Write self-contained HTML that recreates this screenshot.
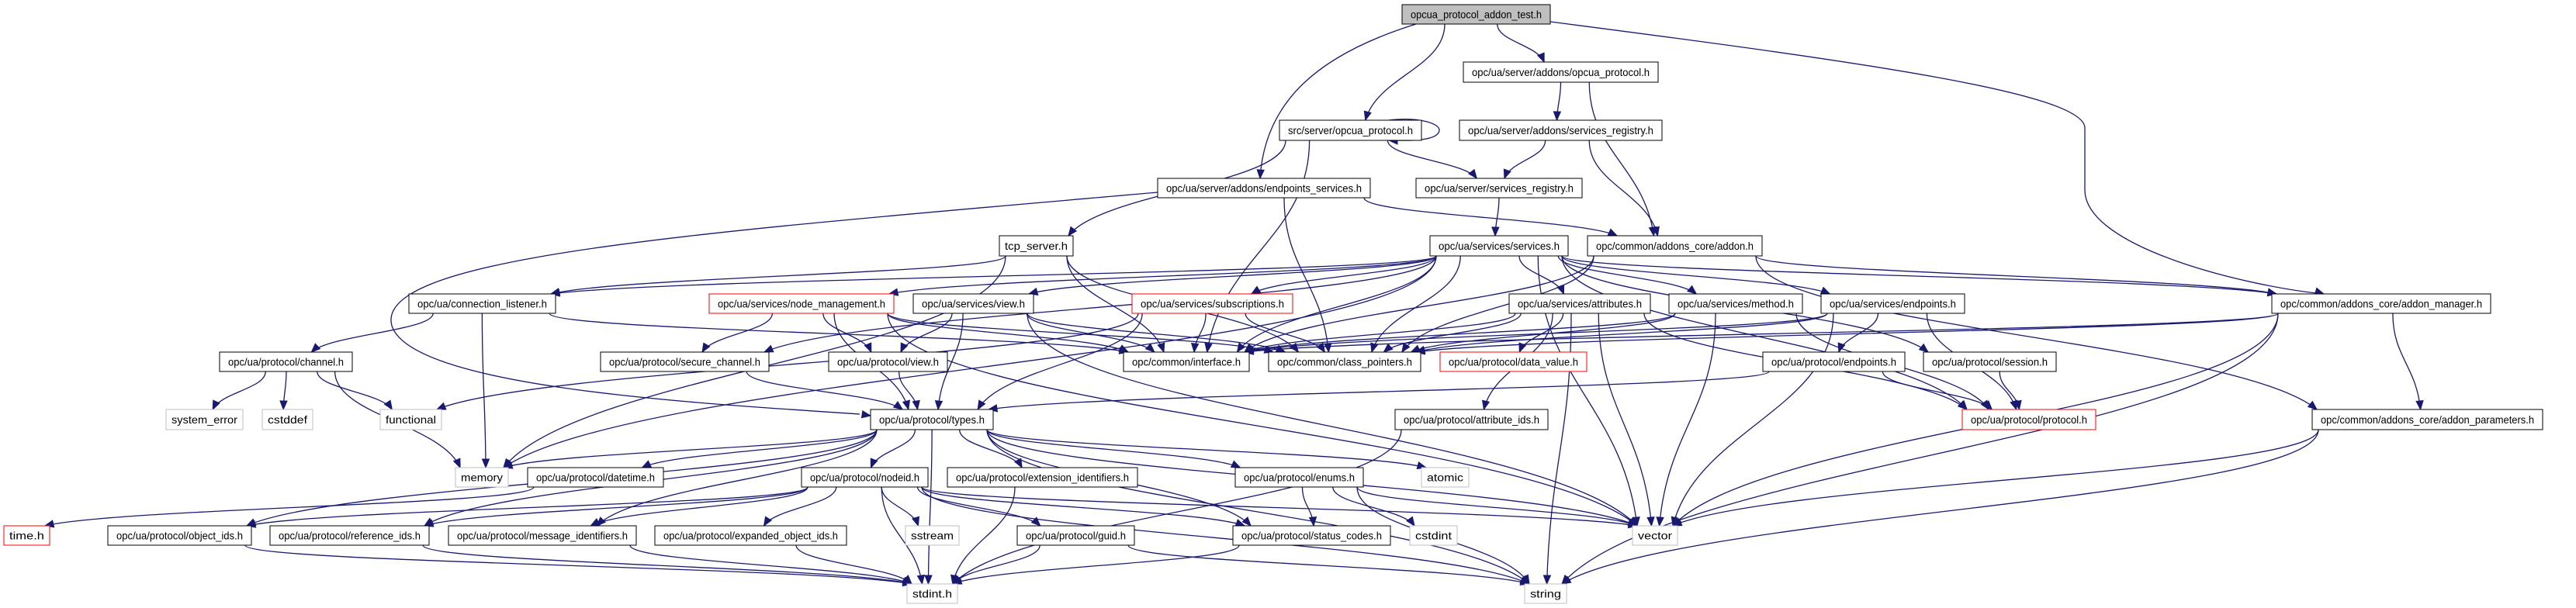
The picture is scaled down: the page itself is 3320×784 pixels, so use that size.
<!DOCTYPE html>
<html><head><meta charset="utf-8"><style>
html,body{margin:0;padding:0;background:#fff;width:3320px;height:784px;overflow:hidden}
svg{display:block}
text{font-family:"Liberation Sans",Arial,sans-serif;font-size:14px;fill:#000}
</style></head><body>
<svg id="s" xmlns="http://www.w3.org/2000/svg" width="3320" height="784" viewBox="0 0 3320 784">
<g id="edges" fill="none" stroke="#191970" stroke-width="1.3"></g>
<g id="heads" fill="#191970" stroke="#191970" stroke-width="1"></g>
<g id="nodes">
<g id="root"><rect x="1807" y="6" width="191" height="25" fill="#bfbfbf" stroke="#000"/><text x="1902.5" y="23.5" text-anchor="middle">opcua_protocol_addon_test.h</text></g>
<g id="addproto"><rect x="1886" y="80" width="251" height="26" fill="#fff" stroke="#000"/><text x="2011.5" y="98" text-anchor="middle">opc/ua/server/addons/opcua_protocol.h</text></g>
<g id="srcproto"><rect x="1649" y="155" width="183" height="26" fill="#fff" stroke="#000"/><text x="1740.5" y="173" text-anchor="middle">src/server/opcua_protocol.h</text></g>
<g id="addreg"><rect x="1881" y="155" width="261" height="26" fill="#fff" stroke="#000"/><text x="2011.5" y="173" text-anchor="middle">opc/ua/server/addons/services_registry.h</text></g>
<g id="endsvc"><rect x="1492" y="230" width="274" height="25" fill="#fff" stroke="#000"/><text x="1629" y="247.5" text-anchor="middle">opc/ua/server/addons/endpoints_services.h</text></g>
<g id="srvreg"><rect x="1825" y="230" width="214" height="25" fill="#fff" stroke="#000"/><text x="1932" y="247.5" text-anchor="middle">opc/ua/server/services_registry.h</text></g>
<g id="tcp"><rect x="1288" y="304" width="95" height="26" fill="#fff" stroke="#000"/><text x="1335.5" y="322" text-anchor="middle">tcp_server.h</text></g>
<g id="services"><rect x="1843" y="304" width="178" height="26" fill="#fff" stroke="#000"/><text x="1932" y="322" text-anchor="middle">opc/ua/services/services.h</text></g>
<g id="addon"><rect x="2046" y="304" width="225" height="26" fill="#fff" stroke="#000"/><text x="2158.5" y="322" text-anchor="middle">opc/common/addons_core/addon.h</text></g>
<g id="connlist"><rect x="527" y="379" width="189" height="25" fill="#fff" stroke="#000"/><text x="621.5" y="396.5" text-anchor="middle">opc/ua/connection_listener.h</text></g>
<g id="nodemgmt"><rect x="914" y="379" width="238" height="25" fill="#fff" stroke="#f00"/><text x="1033" y="396.5" text-anchor="middle">opc/ua/services/node_management.h</text></g>
<g id="sview"><rect x="1177" y="379" width="155" height="25" fill="#fff" stroke="#000"/><text x="1254.5" y="396.5" text-anchor="middle">opc/ua/services/view.h</text></g>
<g id="subs"><rect x="1459" y="379" width="207" height="25" fill="#fff" stroke="#f00"/><text x="1562.5" y="396.5" text-anchor="middle">opc/ua/services/subscriptions.h</text></g>
<g id="attrs"><rect x="1945" y="379" width="182" height="25" fill="#fff" stroke="#000"/><text x="2036" y="396.5" text-anchor="middle">opc/ua/services/attributes.h</text></g>
<g id="method"><rect x="2151" y="379" width="172" height="25" fill="#fff" stroke="#000"/><text x="2237" y="396.5" text-anchor="middle">opc/ua/services/method.h</text></g>
<g id="sendp"><rect x="2347" y="379" width="185" height="25" fill="#fff" stroke="#000"/><text x="2439.5" y="396.5" text-anchor="middle">opc/ua/services/endpoints.h</text></g>
<g id="addonmgr"><rect x="2928" y="379" width="282" height="25" fill="#fff" stroke="#000"/><text x="3069" y="396.5" text-anchor="middle">opc/common/addons_core/addon_manager.h</text></g>
<g id="channel"><rect x="283" y="454" width="171" height="25" fill="#fff" stroke="#000"/><text x="368.5" y="471.5" text-anchor="middle">opc/ua/protocol/channel.h</text></g>
<g id="securech"><rect x="774" y="454" width="217" height="25" fill="#fff" stroke="#000"/><text x="882.5" y="471.5" text-anchor="middle">opc/ua/protocol/secure_channel.h</text></g>
<g id="pview"><rect x="1068" y="454" width="153" height="25" fill="#fff" stroke="#000"/><text x="1144.5" y="471.5" text-anchor="middle">opc/ua/protocol/view.h</text></g>
<g id="interface"><rect x="1448" y="454" width="162" height="25" fill="#fff" stroke="#000"/><text x="1529" y="471.5" text-anchor="middle">opc/common/interface.h</text></g>
<g id="classptr"><rect x="1635" y="454" width="196" height="25" fill="#fff" stroke="#000"/><text x="1733" y="471.5" text-anchor="middle">opc/common/class_pointers.h</text></g>
<g id="datavalue"><rect x="1856" y="454" width="189" height="25" fill="#fff" stroke="#f00"/><text x="1950.5" y="471.5" text-anchor="middle">opc/ua/protocol/data_value.h</text></g>
<g id="pendp"><rect x="2272" y="454" width="183" height="25" fill="#fff" stroke="#000"/><text x="2363.5" y="471.5" text-anchor="middle">opc/ua/protocol/endpoints.h</text></g>
<g id="session"><rect x="2479" y="454" width="171" height="25" fill="#fff" stroke="#000"/><text x="2564.5" y="471.5" text-anchor="middle">opc/ua/protocol/session.h</text></g>
<g id="syserr"><rect x="214" y="528" width="99" height="26" fill="#fff" stroke="#bfbfbf"/><text x="263.5" y="546" text-anchor="middle">system_error</text></g>
<g id="cstddef"><rect x="338" y="528" width="65" height="26" fill="#fff" stroke="#bfbfbf"/><text x="370.5" y="546" text-anchor="middle">cstddef</text></g>
<g id="functional"><rect x="490" y="528" width="79" height="26" fill="#fff" stroke="#bfbfbf"/><text x="529.5" y="546" text-anchor="middle">functional</text></g>
<g id="types"><rect x="1122" y="528" width="158" height="26" fill="#fff" stroke="#000"/><text x="1201" y="546" text-anchor="middle">opc/ua/protocol/types.h</text></g>
<g id="attrids"><rect x="1798" y="528" width="197" height="26" fill="#fff" stroke="#000"/><text x="1896.5" y="546" text-anchor="middle">opc/ua/protocol/attribute_ids.h</text></g>
<g id="protocol"><rect x="2529" y="528" width="172" height="26" fill="#fff" stroke="#f00"/><text x="2615" y="546" text-anchor="middle">opc/ua/protocol/protocol.h</text></g>
<g id="addonparams"><rect x="2980" y="528" width="297" height="26" fill="#fff" stroke="#000"/><text x="3128.5" y="546" text-anchor="middle">opc/common/addons_core/addon_parameters.h</text></g>
<g id="memory"><rect x="587" y="603" width="68" height="25" fill="#fff" stroke="#bfbfbf"/><text x="621" y="620.5" text-anchor="middle">memory</text></g>
<g id="datetime"><rect x="680" y="603" width="175" height="25" fill="#fff" stroke="#000"/><text x="767.5" y="620.5" text-anchor="middle">opc/ua/protocol/datetime.h</text></g>
<g id="nodeid"><rect x="1033" y="603" width="163" height="25" fill="#fff" stroke="#000"/><text x="1114.5" y="620.5" text-anchor="middle">opc/ua/protocol/nodeid.h</text></g>
<g id="extids"><rect x="1221" y="603" width="245" height="25" fill="#fff" stroke="#000"/><text x="1343.5" y="620.5" text-anchor="middle">opc/ua/protocol/extension_identifiers.h</text></g>
<g id="enums"><rect x="1592" y="603" width="165" height="25" fill="#fff" stroke="#000"/><text x="1674.5" y="620.5" text-anchor="middle">opc/ua/protocol/enums.h</text></g>
<g id="atomic"><rect x="1832" y="603" width="61" height="25" fill="#fff" stroke="#bfbfbf"/><text x="1862.5" y="620.5" text-anchor="middle">atomic</text></g>
<g id="time"><rect x="5" y="678" width="59" height="25" fill="#fff" stroke="#f00"/><text x="34.5" y="695.5" text-anchor="middle">time.h</text></g>
<g id="objids"><rect x="139" y="678" width="185" height="25" fill="#fff" stroke="#000"/><text x="231.5" y="695.5" text-anchor="middle">opc/ua/protocol/object_ids.h</text></g>
<g id="refids"><rect x="348" y="678" width="205" height="25" fill="#fff" stroke="#000"/><text x="450.5" y="695.5" text-anchor="middle">opc/ua/protocol/reference_ids.h</text></g>
<g id="msgids"><rect x="578" y="678" width="242" height="25" fill="#fff" stroke="#000"/><text x="699" y="695.5" text-anchor="middle">opc/ua/protocol/message_identifiers.h</text></g>
<g id="expobj"><rect x="844" y="678" width="247" height="25" fill="#fff" stroke="#000"/><text x="967.5" y="695.5" text-anchor="middle">opc/ua/protocol/expanded_object_ids.h</text></g>
<g id="sstream"><rect x="1167" y="678" width="69" height="25" fill="#fff" stroke="#bfbfbf"/><text x="1201.5" y="695.5" text-anchor="middle">sstream</text></g>
<g id="guid"><rect x="1311" y="678" width="151" height="25" fill="#fff" stroke="#000"/><text x="1386.5" y="695.5" text-anchor="middle">opc/ua/protocol/guid.h</text></g>
<g id="statuscodes"><rect x="1589" y="678" width="203" height="25" fill="#fff" stroke="#000"/><text x="1690.5" y="695.5" text-anchor="middle">opc/ua/protocol/status_codes.h</text></g>
<g id="cstdint"><rect x="1817" y="678" width="61" height="25" fill="#fff" stroke="#bfbfbf"/><text x="1847.5" y="695.5" text-anchor="middle">cstdint</text></g>
<g id="vector"><rect x="2104" y="678" width="58" height="25" fill="#fff" stroke="#bfbfbf"/><text x="2133" y="695.5" text-anchor="middle">vector</text></g>
<g id="stdint"><rect x="1169" y="753" width="65" height="25" fill="#fff" stroke="#bfbfbf"/><text x="1201.5" y="770.5" text-anchor="middle">stdint.h</text></g>
<g id="string"><rect x="1965" y="753" width="54" height="25" fill="#fff" stroke="#bfbfbf"/><text x="1992" y="770.5" text-anchor="middle">string</text></g>
</g>
</svg>
<script>
(function(){
var NS="http://www.w3.org/2000/svg";
document.querySelectorAll('#nodes g').forEach(function(g){
  var r=g.querySelector('rect'),t=g.querySelector('text');
  var w=+r.getAttribute('width');
  var tw=w-(w>100?22:14);
  t.setAttribute('textLength',tw);t.setAttribute('lengthAdjust','spacingAndGlyphs');
});
function box(id){var r=document.querySelector('#'+id+' rect');var x=+r.getAttribute('x'),y=+r.getAttribute('y'),w=+r.getAttribute('width'),h=+r.getAttribute('height');return{x:x,y:y,w:w,h:h,cx:x+w/2,cy:y+h/2};}
var custom={
 "root>endsvc":[1825,31,1700,70,1630,130,1624,230],
 "endsvc>types":null,
 "root>addonmgr":null
};
var E="root>srcproto root>addproto root>endsvc root>addonmgr addproto>addreg addproto>addon addreg>srvreg addreg>addon srcproto>srvreg srcproto>tcp srcproto>interface endsvc>types endsvc>addon endsvc>classptr srvreg>services tcp>connlist tcp>memory tcp>interface tcp>classptr services>connlist services>nodemgmt services>sview services>subs services>attrs services>method services>sendp services>session services>protocol services>addonmgr services>interface services>classptr services>memory services>securech services>vector addon>interface addon>classptr addon>addonmgr addon>addonparams connlist>channel connlist>memory connlist>interface nodemgmt>securech nodemgmt>pview nodemgmt>types nodemgmt>interface nodemgmt>classptr nodemgmt>vector sview>pview sview>types sview>interface sview>classptr sview>vector subs>types subs>interface subs>classptr subs>functional attrs>datavalue attrs>attrids attrs>classptr attrs>interface attrs>vector attrs>string attrs>protocol method>classptr method>vector method>protocol method>interface sendp>pendp sendp>classptr sendp>interface sendp>protocol sendp>vector addonmgr>addonparams addonmgr>vector addonmgr>string addonmgr>classptr addonmgr>interface channel>syserr channel>cstddef channel>functional channel>memory securech>types pview>types pendp>types pendp>protocol session>protocol types>memory types>datetime types>nodeid types>extids types>enums types>atomic types>vector types>string types>stdint types>objids types>refids types>msgids types>statuscodes datetime>time nodeid>objids nodeid>refids nodeid>msgids nodeid>expobj nodeid>sstream nodeid>guid nodeid>stdint nodeid>string nodeid>vector nodeid>statuscodes extids>stdint enums>statuscodes enums>cstdint enums>vector enums>string guid>stdint guid>string objids>stdint refids>stdint msgids>stdint expobj>stdint statuscodes>stdint attrids>stdint addonparams>vector addonparams>string".split(' ');
var eg=document.getElementById('edges'),hg=document.getElementById('heads');
var cnt={};
function clamp(v,a,b){return Math.max(a,Math.min(b,v));}
function head(tx,ty,px,py){
  var ang=Math.atan2(ty-py,tx-px),L=11,W=4.5;
  var bx=tx-L*Math.cos(ang),by=ty-L*Math.sin(ang);
  var h=document.createElementNS(NS,'polygon');
  h.setAttribute('points',tx+','+ty+' '+(bx+W*Math.sin(ang))+','+(by-W*Math.cos(ang))+' '+(bx-W*Math.sin(ang))+','+(by+W*Math.cos(ang)));
  hg.appendChild(h);
}
function addPath(d){var p=document.createElementNS(NS,'path');p.setAttribute('d',d);eg.appendChild(p);}
E.forEach(function(e){
  if(e==="endsvc>types"){addPath('M1492,248 C900,300 480,330 505,420 C530,500 900,520 1108,534');head(1122,536,1090,531);return;}
  if(e==="root>addonmgr"){addPath('M1998,28 C2400,80 2687,120 2687,165 L2687,245 C2687,320 2900,370 2995,379');head(2995,379,2960,368);return;}
  if(custom[e]){var c=custom[e];addPath('M'+c[0]+','+c[1]+' C'+c[2]+','+c[3]+' '+c[4]+','+c[5]+' '+c[6]+','+c[7]);head(c[6],c[7],c[4],c[5]);return;}
  var p=e.split('>'),s=box(p[0]),t=box(p[1]);
  var k=p[1];cnt[k]=(cnt[k]||0)+1;
  var sx,sy,tx,ty,c1x,c1y,c2x,c2y;
  var dy=t.y-(s.y+s.h);
  if(dy>=20){
    sx=clamp(s.cx+(t.cx-s.cx)*0.25,s.x+8,s.x+s.w-8);sy=s.y+s.h;
    var off=((cnt[k]%5)-2)*5;
    tx=clamp(t.cx+(s.cx-t.cx)*0.15+off,t.x+6,t.x+t.w-6);ty=t.y;
    var m=dy*0.45;c1x=sx;c1y=sy+m;c2x=tx+(sx-tx)*0.15;c2y=ty-m;
  } else {
    if(t.cx<s.cx){sx=s.x;tx=t.x+t.w;}else{sx=s.x+s.w;tx=t.x;}
    sy=s.cy+4;ty=t.cy-4;
    var dx=(tx-sx)*0.4;c1x=sx+dx;c1y=sy;c2x=tx-dx;c2y=ty;
  }
  addPath('M'+sx+','+sy+' C'+c1x+','+c1y+' '+c2x+','+c2y+' '+tx+','+ty);
  head(tx,ty,c2x,c2y);
});
addPath('M1790,155 C1830,150 1856,160 1855,168 C1854,178 1835,182 1800,181');
var sh=document.createElementNS(NS,'polygon');sh.setAttribute('points','1790,181 1801,176 1801,186');hg.appendChild(sh);
})();
</script>
</body></html>
